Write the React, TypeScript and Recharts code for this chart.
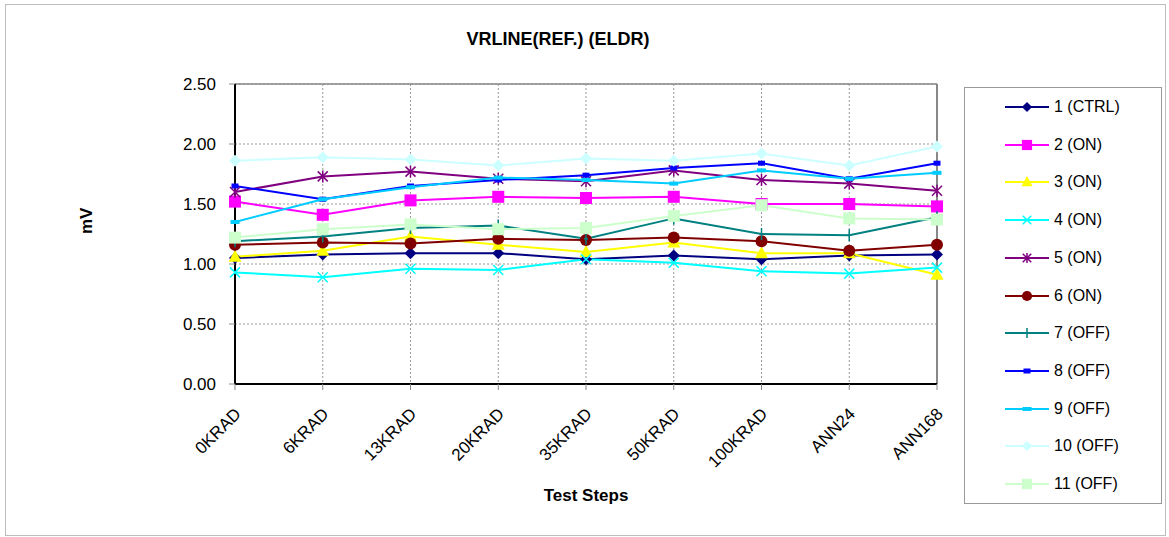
import React from 'react';
import { LineChart, Line, XAxis, YAxis, CartesianGrid, ReferenceLine } from 'recharts';

// test steps along the x axis
const steps = ['0KRAD', '6KRAD', '13KRAD', '20KRAD', '35KRAD', '50KRAD', '100KRAD', 'ANN24', 'ANN168'];
const yTicks = [0, 0.5, 1.0, 1.5, 2.0, 2.5];

// readings per device (mV)
const dev1 = [1.05, 1.08, 1.09, 1.09, 1.04, 1.07, 1.04, 1.07, 1.08];
const dev2 = [1.52, 1.41, 1.53, 1.56, 1.55, 1.56, 1.50, 1.50, 1.48];
const dev3 = [1.06, 1.11, 1.23, 1.16, 1.10, 1.18, 1.09, 1.09, 0.91];
const dev4 = [0.93, 0.89, 0.96, 0.95, 1.04, 1.01, 0.94, 0.92, 0.97];
const dev5 = [1.60, 1.73, 1.77, 1.71, 1.69, 1.78, 1.70, 1.67, 1.61];
const dev6 = [1.16, 1.18, 1.17, 1.21, 1.20, 1.22, 1.19, 1.11, 1.16];
const dev7 = [1.19, 1.23, 1.30, 1.32, 1.21, 1.38, 1.25, 1.24, 1.39];
const dev8 = [1.65, 1.54, 1.65, 1.70, 1.74, 1.80, 1.84, 1.71, 1.84];
const dev9 = [1.35, 1.54, 1.64, 1.72, 1.70, 1.67, 1.78, 1.71, 1.76];
const dev10 = [1.86, 1.89, 1.87, 1.82, 1.88, 1.86, 1.92, 1.82, 1.98];
const dev11 = [1.22, 1.29, 1.33, 1.29, 1.30, 1.40, 1.49, 1.38, 1.37];

const seriesNames = ['1 (CTRL)', '2 (ON)', '3 (ON)', '4 (ON)', '5 (ON)', '6 (ON)', '7 (OFF)', '8 (OFF)', '9 (OFF)', '10 (OFF)', '11 (OFF)'];
const seriesValues = [dev1, dev2, dev3, dev4, dev5, dev6, dev7, dev8, dev9, dev10, dev11];
const seriesColors = ['#000080', '#FF00FF', '#FFFF00', '#00FFFF', '#800080', '#800000', '#008080', '#0000FF', '#00CCFF', '#CCFFFF', '#CCFFCC'];
const seriesMarkers = ['diamond', 'square', 'triangle', 'x', 'star', 'circle', 'plus', 'dash', 'bar', 'diamond', 'square'];

const rows = steps.map((step, i) => {
  const row: Record<string, string | number> = { step };
  seriesValues.forEach((vals, s) => { row['s' + s] = vals[i]; });
  return row;
});

const FONT = 'Arial, "Liberation Sans", sans-serif';

// marker glyph drawn at (cx, cy)
const Marker = ({ kind, cx, cy, color, k = 1 }: { kind: string; cx: number; cy: number; color: string; k?: number }) => {
  const r = 6 * k;
  switch (kind) {
    case 'diamond':
      return <path d={`M${cx},${cy - r}L${cx + r},${cy}L${cx},${cy + r}L${cx - r},${cy}Z`} fill={color} />;
    case 'square':
      return <rect x={cx - r} y={cy - r} width={2 * r} height={2 * r} fill={color} />;
    case 'triangle':
      return <path d={`M${cx},${cy - 7 * k}L${cx + 6.5 * k},${cy + 5 * k}L${cx - 6.5 * k},${cy + 5 * k}Z`} fill={color} />;
    case 'circle':
      return <circle cx={cx} cy={cy} r={r} fill={color} />;
    case 'x':
      return <path d={`M${cx - 5 * k},${cy - 5 * k}L${cx + 5 * k},${cy + 5 * k}M${cx + 5 * k},${cy - 5 * k}L${cx - 5 * k},${cy + 5 * k}`} stroke={color} strokeWidth={1.5} />;
    case 'star':
      return (
        <path
          d={`M${cx - 5 * k},${cy - 5 * k}L${cx + 5 * k},${cy + 5 * k}M${cx + 5 * k},${cy - 5 * k}L${cx - 5 * k},${cy + 5 * k}M${cx},${cy - r}L${cx},${cy + r}`}
          stroke={color}
          strokeWidth={1.5}
        />
      );
    case 'plus':
      return <path d={`M${cx},${cy - r}L${cx},${cy + r}M${cx - 2},${cy}L${cx + 2},${cy}`} stroke={color} strokeWidth={1.5} />;
    case 'dash':
      return <rect x={cx - 3.5} y={cy - 2.5} width={7} height={5} fill={color} />;
    case 'bar':
      return <rect x={cx - 4.5} y={cy - 2} width={9} height={4} fill={color} />;
    default:
      return null;
  }
};

const makeDot = (kind: string, color: string) => (props: any) => (
  <g key={`${kind}-${props.index}-${color}`}>
    <Marker kind={kind} cx={props.cx} cy={props.cy} color={color} />
  </g>
);

const StepTick = (props: any) => {
  const { x, y, payload } = props;
  return (
    <g transform={`translate(${x + 7},${y + 23})`}>
      <text transform="rotate(-45)" textAnchor="end" fontSize={17} fill="#000" fontFamily={FONT}>
        {payload.value}
      </text>
    </g>
  );
};

const App: React.FC = () => {
  return (
    <div style={{ position: 'absolute', left: 0, top: 0, width: 1169, height: 537, background: '#fff', fontFamily: FONT }}>
      <div style={{ position: 'absolute', left: 5, top: 4, width: 1159, height: 530, border: '1px solid #bdbdbd' }} />

      <div style={{ position: 'absolute', left: 0, top: 29, width: 1116, textAlign: 'center', fontWeight: 'bold', fontSize: 18, lineHeight: '21px' }}>
        VRLINE(REF.) (ELDR)
      </div>

      <div style={{ position: 'absolute', left: 0, top: 0 }}>
        <LineChart width={1169} height={537} data={rows} margin={{ top: 84, right: 232, left: 0, bottom: 0 }}>
          <CartesianGrid stroke="#999" strokeDasharray="2 2" />
          <XAxis
            dataKey="step"
            height={153}
            tick={<StepTick />}
            interval={0}
            axisLine={{ stroke: '#000', strokeWidth: 2 }}
            tickLine={{ stroke: '#888' }}
            tickSize={6}
            label={{ value: 'Test Steps', position: 'insideBottom', offset: 36, fontWeight: 'bold', fontSize: 17, fill: '#000', fontFamily: FONT }}
          />
          <YAxis
            width={235}
            domain={[0, 2.5]}
            ticks={yTicks}
            tickFormatter={(v: number) => v.toFixed(2)}
            tick={{ fontSize: 17, fill: '#000', fontFamily: FONT }}
            axisLine={{ stroke: '#000', strokeWidth: 2 }}
            tickLine={{ stroke: '#888' }}
            tickSize={6}
            tickMargin={13}
            label={{ value: 'mV', angle: -90, position: 'insideLeft', offset: 86, fontWeight: 'bold', fontSize: 17, fill: '#000', fontFamily: FONT }}
          />
          <ReferenceLine y={2.5} stroke="#888" strokeWidth={1.5} />
          <ReferenceLine x="ANN168" stroke="#888" strokeWidth={2} />
          {seriesNames.map((name, s) => (
            <Line
              key={name}
              name={name}
              dataKey={'s' + s}
              type="linear"
              stroke={seriesColors[s]}
              strokeWidth={2}
              dot={makeDot(seriesMarkers[s], seriesColors[s])}
              activeDot={false}
              isAnimationActive={false}
            />
          ))}
        </LineChart>
      </div>

      <div style={{ position: 'absolute', left: 964, top: 87, width: 196, height: 415, border: '1px solid #999', background: '#fff' }}>
        {seriesNames.map((name, s) => (
          <div key={name} style={{ position: 'absolute', left: 0, top: 7 + s * 37.7, height: 24, display: 'flex', alignItems: 'center' }}>
            <svg width={89} height={24} style={{ display: 'block' }}>
              <line x1={40} y1={12} x2={84} y2={12} stroke={seriesColors[s]} strokeWidth={2} />
              <Marker kind={seriesMarkers[s]} cx={62} cy={12} color={seriesColors[s]} k={0.85} />
            </svg>
            <span style={{ fontSize: 16 }}>{name}</span>
          </div>
        ))}
      </div>
    </div>
  );
};

export default App;
